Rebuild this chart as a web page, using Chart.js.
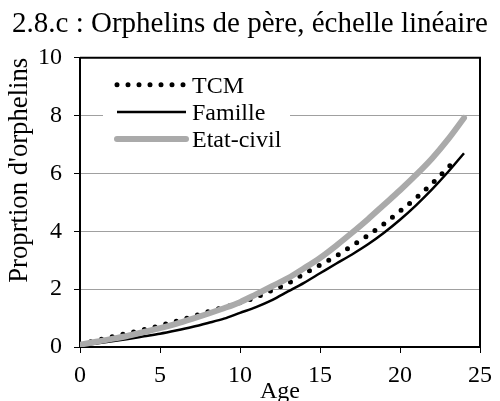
<!DOCTYPE html>
<html>
<head>
<meta charset="utf-8">
<script src="https://cdn.jsdelivr.net/npm/chart.js@4.4.1/dist/chart.umd.min.js"></script>
<style>
body { margin: 0; background: #fff; }
</style>
</head>
<body>
<canvas id="myChart" width="500" height="401"></canvas>
<script>
let ages = [0,1,2,3,4,5,6,7,8,9,10,11,12,13,14,15,16,17,18,19,20,21,22,23,24];
let agesTcm = [0,1,2,3,4,5,6,7,8,9,10,11,12,13,14,15,16,17,18,19,20,21,22,23,23.5];
let tcm = [0.1,0.22,0.35,0.48,0.6,0.74,0.89,1.05,1.22,1.37,1.53,1.72,1.96,2.2,2.53,2.83,3.14,3.5,3.86,4.26,4.7,5.15,5.65,6.2,6.48];
let famille = [0.05,0.12,0.2,0.28,0.37,0.46,0.57,0.69,0.83,0.98,1.18,1.38,1.62,1.92,2.22,2.55,2.88,3.2,3.55,3.95,4.4,4.9,5.45,6.05,6.7];
let etatCivil = [0.08,0.18,0.28,0.39,0.52,0.65,0.8,0.97,1.15,1.34,1.55,1.82,2.1,2.38,2.72,3.08,3.5,3.95,4.42,4.92,5.42,5.95,6.52,7.18,7.92];
let noms = ['TCM', 'Famille', 'Etat-civil'];

function points(xs, ys){
  return xs.map(function(x, i){ return {x: x, y: ys[i]}; });
}

Chart.defaults.font.family = '"Liberation Serif", "Times New Roman", serif';
Chart.defaults.color = '#000';

// cadre haut et droite
let cadre = {
  id: 'cadre',
  beforeDatasetsDraw: function(chart){
    let a = chart.chartArea;
    let ctx = chart.ctx;
    ctx.save();
    ctx.strokeStyle = '#000';
    ctx.lineWidth = 2;
    ctx.beginPath();
    ctx.moveTo(a.left, a.top);
    ctx.lineTo(a.right, a.top);
    ctx.lineTo(a.right, a.bottom);
    ctx.stroke();
    ctx.restore();
  }
};

// legende dans le graphique
let legende = {
  id: 'legende',
  afterDatasetsDraw: function(chart){
    let a = chart.chartArea;
    let ctx = chart.ctx;
    ctx.save();
    ctx.fillStyle = '#fff';
    ctx.fillRect(a.left + 23, a.top + 12, 187, 84);
    chart.data.datasets.forEach(function(ds, i){
      let y = a.top + 27 + i * 27.1;
      ctx.beginPath();
      ctx.lineWidth = ds.borderWidth;
      ctx.strokeStyle = ds.borderColor;
      ctx.setLineDash(ds.borderDash || []);
      ctx.lineCap = ds.borderCapStyle || 'butt';
      ctx.moveTo(a.left + 37, y);
      ctx.lineTo(a.left + 106, y);
      ctx.stroke();
      ctx.setLineDash([]);
      ctx.fillStyle = '#000';
      ctx.font = '24px "Liberation Serif"';
      ctx.textBaseline = 'middle';
      ctx.textAlign = 'left';
      ctx.fillText(ds.label, a.left + 112, y + 1.5);
    });
    ctx.restore();
  }
};

let ctx = document.getElementById('myChart').getContext('2d');
let chart = new Chart(ctx, {
  type: 'line',
  data: {
    datasets: [{
      label: noms[0],
      data: points(agesTcm, tcm),
      borderColor: '#000',
      borderWidth: 5,
      borderDash: [0, 11],
      borderCapStyle: 'round',
      pointRadius: 0,
      cubicInterpolationMode: 'monotone',
      order: 3
    }, {
      label: noms[1],
      data: points(ages, famille),
      borderColor: '#000',
      borderWidth: 2.5,
      pointRadius: 0,
      cubicInterpolationMode: 'monotone',
      order: 2
    }, {
      label: noms[2],
      data: points(ages, etatCivil),
      borderColor: '#aaaaaa',
      borderWidth: 6,
      borderCapStyle: 'round',
      pointRadius: 0,
      cubicInterpolationMode: 'monotone',
      order: 1
    }]
  },
  options: {
    responsive: false,
    animation: false,
    layout: { padding: 0 },
    plugins: {
      legend: { display: false },
      tooltip: { enabled: false },
      title: {
        display: true,
        text: '2.8.c : Orphelins de père, échelle linéaire',
        color: '#000',
        font: { size: 29, weight: 'normal' },
        padding: { top: 7, bottom: 16 }
      }
    },
    scales: {
      x: {
        type: 'linear',
        min: 0,
        max: 25,
        ticks: { stepSize: 5, font: { size: 24 }, padding: 8, maxRotation: 0 },
        grid: { display: true, drawOnChartArea: false, drawTicks: true, tickLength: 6, tickColor: '#000' },
        border: { display: true, color: '#000', width: 2 },
        title: { display: true, text: 'Age', font: { size: 24, lineHeight: 0.8 }, padding: 0 },
        afterFit: function(scale){ scale.height = 54; }
      },
      y: {
        min: 0,
        max: 10,
        ticks: { stepSize: 2, font: { size: 24 }, padding: 12 },
        grid: { color: '#a0a0a0', lineWidth: 1, tickLength: 6, tickColor: '#000' },
        border: { display: true, color: '#000', width: 2 },
        title: { display: true, text: "Proprtion d'orphelins", align: 'end', font: { size: 26.7 }, padding: { top: 4, bottom: 0 } },
        afterFit: function(scale){ scale.width = 80; }
      },
      y2: {
        position: 'right',
        display: true,
        ticks: { display: false },
        grid: { display: false },
        border: { display: false },
        afterFit: function(scale){ scale.width = 19; }
      }
    }
  },
  plugins: [cadre, legende]
});
</script>
</body>
</html>
